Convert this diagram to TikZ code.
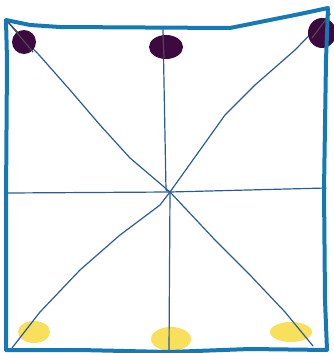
\documentclass[tikz,border=0pt]{standalone}
\usetikzlibrary{shapes.geometric}
\definecolor{frameblue}{HTML}{1479B5}
\definecolor{lineblue}{HTML}{2A5C9A}
\definecolor{plum}{HTML}{3C0A3E}
\definecolor{sun}{HTML}{F8E05C}
\tikzset{
  frame/.style={draw=frameblue, line width=4pt, line join=round, line cap=round},
  spoke/.style={draw=lineblue, line width=1.2pt, line cap=round, line join=round},
  darkblob/.style={fill=plum},
  yellowblob/.style={fill=sun}
}
\begin{document}
\begin{tikzpicture}[x=1pt,y=-1pt]
\useasboundingbox (0,0) rectangle (334,353);
% blobs (under the lines)
\fill[yellowblob] (34,332) ellipse [x radius=16, y radius=11];
\fill[yellowblob] (171,339) ellipse [x radius=20, y radius=12];
\fill[yellowblob] (291,332) ellipse [x radius=21, y radius=10];
% coordinates
\coordinate (c) at (170,192);
\coordinate (tl) at (8,22);
\coordinate (tr) at (330,14);
\coordinate (bl) at (12,348);
\coordinate (br) at (313,346);
\coordinate (t) at (163,29);
\coordinate (b) at (169,352);
\coordinate (l) at (8,193);
\coordinate (r) at (326,188);
% spokes
\draw[spoke] (tl) -- (40,56) -- (70,90) -- (100,125) -- (130,158) -- (c);
\draw[spoke] (tr) -- (295,50) -- (255,85) -- (225,115) -- (200,150) -- (c);
\draw[spoke] (bl) -- (40,312) -- (80,270) -- (120,235) -- (160,205) -- (c);
\draw[spoke] (br) -- (285,312) -- (250,275) -- (215,240) -- (c);
\draw[spoke] (t) -- (166,190) -- (c) -- (b);
\draw[spoke] (l) -- (c) -- (r);
% dark blobs
\fill[darkblob] (24,42) ellipse [x radius=12, y radius=12];
\fill[darkblob] (166,47) ellipse [x radius=17, y radius=12];
\fill[darkblob] (322,33) ellipse [x radius=14, y radius=15];
\draw[spoke, draw=black!70] (tl) -- (33,52);
\draw[spoke, draw=black!70] (163,35) -- (164,58);
\draw[spoke, draw=black!70] (330,14) -- (312,38);
% frame
\draw[frame] (6,20) -- (30,25) -- (60,27) -- (230,28) -- (270,20) -- (300,14) -- (328,8)
  -- (326,60) -- (324,190) -- (325,300) -- (327,350)
  -- (250,349) -- (169,352) -- (80,350) -- (6,350) -- (6,200) -- (7,60) -- cycle;
\end{tikzpicture}
\end{document}
